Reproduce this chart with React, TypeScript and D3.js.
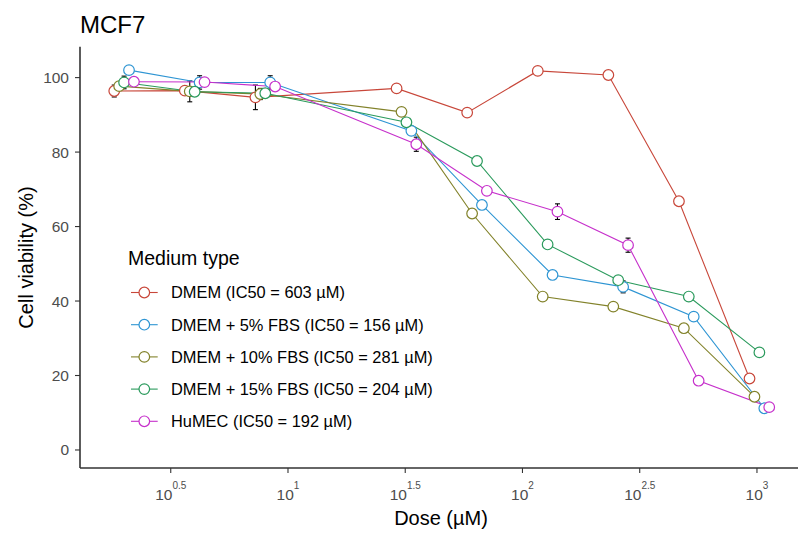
import React from 'react';
import * as d3 from 'd3';

// doses in µM (log scale), values = mean viability (%), sd = error bar half-length
const doses = [2, 4, 8, 32, 64, 128, 256, 512, 1024];

const dmem = [96.4, 96.5, 94.7, 97.1, 90.6, 101.8, 100.7, 66.8, 19.2];
const dmemSd = [1.6, 0.8, 3.3, 0.8, 0.6, 0.6, 0.6, 0.6, 0.6];
const fbs5 = [102.0, 98.7, 98.7, 85.7, 65.8, 47.0, 43.8, 35.8, 11.2];
const fbs5Sd = [0.8, 1.8, 1.8, 1.0, 0.6, 0.6, 1.6, 0.6, 0.6];
const fbs10 = [97.7, 96.3, 95.6, 90.8, 63.5, 41.2, 38.5, 32.7, 14.3];
const fbs10Sd = [0.8, 2.8, 1.5, 0.6, 0.6, 0.6, 0.6, 0.6, 0.6];
const fbs15 = [98.7, 96.2, 95.8, 88.0, 77.6, 55.2, 45.6, 41.2, 26.2];
const fbs15Sd = [1.7, 0.8, 0.8, 0.6, 0.6, 0.6, 0.6, 0.6, 0.6];
const humec = [98.9, 98.8, 97.6, 82.1, 69.6, 64.0, 55.0, 18.6, 11.5];
const humecSd = [0.8, 0.8, 0.8, 1.9, 0.6, 2.1, 1.9, 0.6, 0.6];

const levels = ['DMEM', 'DMEM + 5% FBS', 'DMEM + 10% FBS', 'DMEM + 15% FBS', 'HuMEC'];
const ic50 = [603, 156, 281, 204, 192];
const colors = ['#C8473A', '#2E95D3', '#82822A', '#2A9A5C', '#C630CB'];
const values = [dmem, fbs5, fbs10, fbs15, humec];
const sds = [dmemSd, fbs5Sd, fbs10Sd, fbs15Sd, humecSd];

const yTicks = [0, 20, 40, 60, 80, 100];
const xTickExps = ['0.5', '1', '1.5', '2', '2.5', '3'];

const W = 798;
const H = 533;
const margin = { top: 46.7, left: 80, right: 0, bottom: 65 };
const font = '"Liberation Sans", Arial, Helvetica, sans-serif';

// ggplot dodges by the alphabetical factor order
const dodgeOrder = [...levels].sort();
const dodgeStep = 0.021;

export default function App() {
  const x = d3.scaleLog()
    .domain([Math.pow(10, 0.113), Math.pow(10, 3.175)])
    .range([margin.left, W - margin.right]);
  const y = d3.scaleLinear()
    .domain([-4.84, 108.3])
    .range([H - margin.bottom - 0, margin.top]);
  const y0 = H - margin.bottom;

  const series = levels.map((name, i) => {
    const rank = dodgeOrder.indexOf(name);
    const shift = Math.pow(10, (rank - 2) * dodgeStep);
    const pts = doses.map((d, j) => ({
      x: x(d * shift),
      v: values[i][j],
      sd: sds[i][j],
    }));
    return { name, color: colors[i], pts, label: `${name} (IC50 = ${ic50[i]} µM)` };
  });

  const line = d3.line<{ x: number; v: number }>()
    .x(d => d.x)
    .y(d => y(d.v));

  const legendX = 128;
  const legendTitleY = 265;
  const legendRow0 = 292.5;
  const legendStep = 32.2;

  return (
    <svg width={W} height={H} style={{ position: 'absolute', left: 0, top: 0, background: '#fff' }}
      fontFamily={font}>
      <rect x={0} y={0} width={W} height={H} fill="#fff" />
      <text x={80} y={33} fontSize={24} fill="#000">MCF7</text>

      {/* error bars */}
      {series.map(s => (
        <g key={'e' + s.name} stroke="#000" strokeWidth={1.1}>
          {s.pts.map((p, j) => (
            <g key={j}>
              <line x1={p.x} x2={p.x} y1={y(p.v - p.sd)} y2={y(p.v + p.sd)} />
              <line x1={p.x - 2.5} x2={p.x + 2.5} y1={y(p.v - p.sd)} y2={y(p.v - p.sd)} />
              <line x1={p.x - 2.5} x2={p.x + 2.5} y1={y(p.v + p.sd)} y2={y(p.v + p.sd)} />
            </g>
          ))}
        </g>
      ))}

      {/* lines */}
      {series.map(s => (
        <path key={'l' + s.name} d={line(s.pts) || ''} fill="none" stroke={s.color} strokeWidth={1.1} />
      ))}

      {/* points */}
      {series.map(s => (
        <g key={'p' + s.name}>
          {s.pts.map((p, j) => (
            <circle key={j} cx={p.x} cy={y(p.v)} r={5.3} fill="#fff" stroke={s.color} strokeWidth={1.2} />
          ))}
        </g>
      ))}

      {/* axes */}
      <g stroke="#333" strokeWidth={1.1}>
        {yTicks.map(t => (
          <line key={t} x1={margin.left - 5} x2={margin.left} y1={y(t)} y2={y(t)} />
        ))}
        {xTickExps.map(e => (
          <line key={e} x1={x(Math.pow(10, +e))} x2={x(Math.pow(10, +e))} y1={y0} y2={y0 + 5} />
        ))}
      </g>
      <line x1={margin.left} x2={margin.left} y1={margin.top} y2={y0} stroke="#333" strokeWidth={1.6} />
      <line x1={margin.left} x2={W - margin.right} y1={y0} y2={y0} stroke="#333" strokeWidth={1.6} />

      {yTicks.map(t => (
        <text key={t} x={margin.left - 11} y={y(t) + 5.5} textAnchor="end" fontSize={15.5} fill="#4D4D4D">{t}</text>
      ))}
      {xTickExps.map(e => (
        <text key={e} x={x(Math.pow(10, +e))} y={500} textAnchor="middle" fontSize={15.5} fill="#4D4D4D">
          10<tspan fontSize={10} dy={-11}>{e}</tspan>
        </text>
      ))}

      <text x={441} y={525} textAnchor="middle" fontSize={20} fill="#000">Dose (µM)</text>
      <text transform={`translate(33,257.5) rotate(-90)`} textAnchor="middle" fontSize={20} fill="#000">Cell viability (%)</text>

      {/* legend */}
      <text x={legendX} y={legendTitleY} fontSize={19.5} fill="#000">Medium type</text>
      {series.map((s, i) => {
        const cy = legendRow0 + i * legendStep;
        return (
          <g key={'k' + s.name}>
            <line x1={131} x2={157.7} y1={cy} y2={cy} stroke={s.color} strokeWidth={1.1} />
            <circle cx={144.3} cy={cy} r={5.3} fill="#fff" stroke={s.color} strokeWidth={1.2} />
            <text x={171} y={cy + 5.8} fontSize={16.4} fill="#000">{s.label}</text>
          </g>
        );
      })}
    </svg>
  );
}
